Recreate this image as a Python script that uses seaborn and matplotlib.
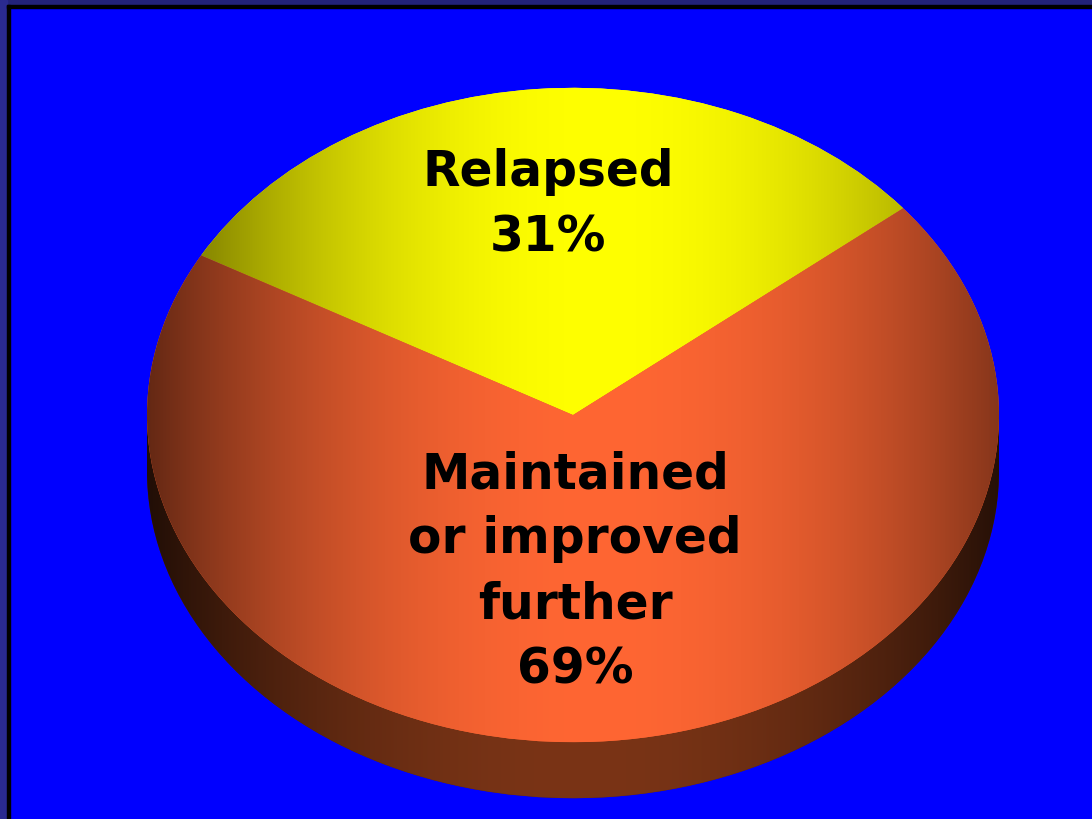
import numpy as np
import matplotlib as mpl
from matplotlib import pyplot as plt
from matplotlib.patches import Rectangle
import seaborn as sns

# data
labels = ["Relapsed", "Maintained\nor improved\nfurther"]
shares = [31, 69]
base_colors = sns.color_palette(["#FFFF00", "#FF6633"])

W, H = 1092, 819
K = 0.768          # vertical squash of the tilted pie
CX, CY = 573, 415  # centre of the top face (pixels)
R = 426            # horizontal radius (pixels)
DEPTH = 56         # thickness of the side wall (pixels)
START = 95 - 360 * shares[0] / 100 / 2


def py(p):
    # pixel row -> data y (y up, squashed)
    return (H - p) / K


def shade(x, peak=600, spread=450, drop=0.6):
    f = 1 - drop * ((x - peak) / spread) ** 2
    return np.clip(f, 0.2, 1)


sns.set_style("white")
fig = plt.figure(figsize=(W / 100, H / 100), dpi=100, facecolor="#0000FF")
ax = fig.add_axes([0, 0, 1, 1])
ax.set_facecolor("#0000FF")

xs = np.linspace(CX - R, CX + R, 600)
x0, x1 = CX - R, CX + R

# side wall: same pie pushed down, plus the band joining the two faces
side_wedges, _ = ax.pie(shares, center=(CX, py(CY + DEPTH)), radius=R,
                        startangle=START, counterclock=True,
                        colors=["#5a2510"] * 2, frame=True,
                        wedgeprops=dict(linewidth=0))
band = ax.fill_between([x0, x1], py(CY + DEPTH), py(CY), color="#5a2510",
                       linewidth=0, zorder=1)
side_rgb = np.array([122, 52, 22]) / 255
side_img = (side_rgb[None, :] * shade(xs, 580, 430, 0.72)[:, None])[None, :, :]
for patch in list(side_wedges) + [band]:
    patch.set_zorder(1)
    im = ax.imshow(side_img, extent=(x0, x1, py(CY + DEPTH) - R * 1.05, py(CY) + 5),
                   aspect="auto", interpolation="bilinear", zorder=1.5)
    im.set_clip_path(patch.get_paths()[0] if hasattr(patch, "get_paths") else patch,
                     patch.get_transform() if hasattr(patch, "get_paths") else None)

# top face
top_wedges, _ = ax.pie(shares, center=(CX, py(CY)), radius=R,
                       startangle=START, counterclock=True,
                       colors=base_colors, frame=True,
                       wedgeprops=dict(linewidth=0))
for w, c in zip(top_wedges, base_colors):
    w.set_zorder(2)
    img = (np.array(c)[None, :] * shade(xs)[:, None])[None, :, :]
    im = ax.imshow(img, extent=(x0, x1, py(CY) - R, py(CY) + R),
                   aspect="auto", interpolation="bilinear", zorder=2.5)
    im.set_clip_path(w)

# labels
ax.text(548, py(205), f"{labels[0]}\n{shares[0]}%", ha="center", va="center",
        fontsize=35, fontweight="bold", color="black", linespacing=1.45,
        family="DejaVu Sans", zorder=5)
ax.text(575, py(572), f"{labels[1]}\n{shares[1]}%", ha="center", va="center",
        fontsize=35, fontweight="bold", color="black", linespacing=1.45,
        family="DejaVu Sans", zorder=5)

ax.set_aspect("auto")
ax.set_xlim(0, W)
ax.set_ylim(0, H / K)
ax.axis("off")

# slide frame: navy band and black rule on top and left
fig.patches.extend([
    Rectangle((0, 1 - 5 / H), 1, 5 / H, transform=fig.transFigure, color="#22227A", zorder=10),
    Rectangle((7 / W, 1 - 8 / H), 1, 3 / H, transform=fig.transFigure, color="black", zorder=11),
    Rectangle((0, 0), 7 / W, 1, transform=fig.transFigure, color="#2A2A90", zorder=10),
    Rectangle((7 / W, 0), 3 / W, 1 - 5 / H, transform=fig.transFigure, color="black", zorder=11),
])

fig.savefig("out.png", dpi=100, facecolor=fig.get_facecolor())
